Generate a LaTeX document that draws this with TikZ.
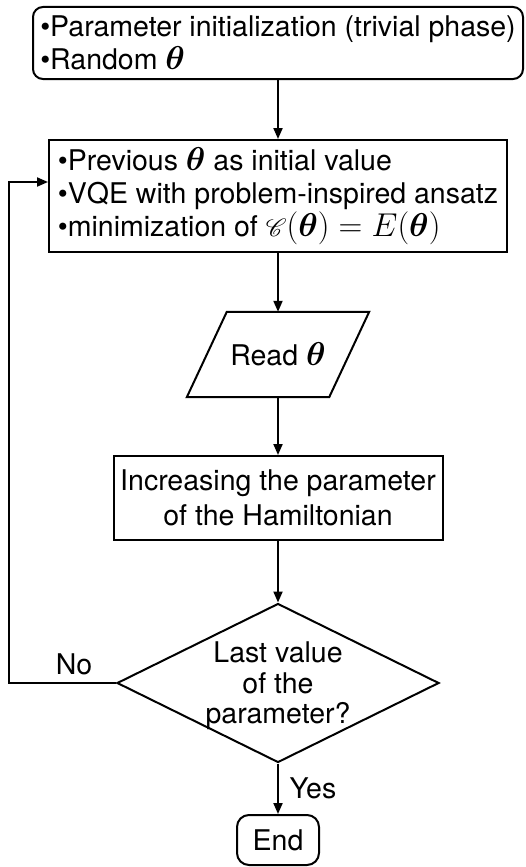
\RequirePackage{fix-cm}
\documentclass[tikz,border=0pt]{standalone}
\usepackage{fontspec}
\setmainfont{TeX Gyre Heros}
\usepackage{amsmath}
\usepackage{bm}
\usepackage{mathrsfs}
\usetikzlibrary{arrows.meta,shapes.geometric}
% math set a little larger than the surrounding sans text
\newcommand{\bigmath}[1]{{\fontsize{33}{33}\selectfont$#1$}}

\begin{document}
\begin{tikzpicture}[x=1pt,y=-1pt,
  every node/.style={font=\fontsize{28.5}{33}\selectfont, inner sep=0pt},
  box/.style={draw, line width=2pt, rectangle},
  edge/.style={line width=2pt, line join=miter},
  flow/.style={draw, line width=2pt, -{Triangle[length=11pt,width=9pt]}}]
\useasboundingbox (0,0) rectangle (525,867);

% start: parameter initialization
\node[box, rounded corners=10pt, minimum width=490pt, minimum height=72pt, align=left]
  (init) at (278,43) {•Parameter initialization (trivial phase)\\•Random \bigmath{\bm{\theta}}};

% VQE step
\node[box, minimum width=458pt, minimum height=112pt, align=left]
  (vqe) at (278,196) {•Previous \bigmath{\bm{\theta}} as initial value\\
  •VQE with problem-inspired ansatz\\
  •minimization of \bigmath{\mathscr{C}(\bm{\theta}) = E(\bm{\theta})}};

% read output (parallelogram drawn around the text node)
\node[minimum width=142pt, minimum height=85pt] (read) at (278,354.5) {Read \bigmath{\bm{\theta}}};
\draw[edge] ([xshift=20pt]read.north west) -- ([xshift=20pt]read.north east)
  -- ([xshift=-20pt]read.south east) -- ([xshift=-20pt]read.south west) -- cycle;

% update Hamiltonian parameter
\node[box, minimum width=329pt, minimum height=84pt, align=center,
  font=\fontsize{28.5}{35}\selectfont]
  (incr) at (278,498) {Increasing the parameter\\of the Hamiltonian};

% decision
\node[diamond, draw, line width=2pt, minimum width=322pt, minimum height=159pt]
  (last) at (278,683) {};
\node[align=center, font=\fontsize{28.5}{30.5}\selectfont] (lasttxt) at (278,686)
  {Last value\\of the\\parameter?};

% end
\node[box, rounded corners=12pt, minimum width=82pt, minimum height=50pt]
  (end) at (278,840) {End};

% connectors
\draw[flow] (init) -- (vqe);
\draw[flow] (vqe) -- (read);
\draw[flow] (read) -- (incr);
\draw[flow] (incr) -- (last);
\draw[flow] (last) -- (end);
\coordinate (back) at (9,683);
\draw[flow] (last.west) -- (back) |- ([yshift=14pt]vqe.west);

% branch labels
\node (no) at (74,664) {No};
\node (yes) at (313,788) {Yes};
\end{tikzpicture}
\end{document}
